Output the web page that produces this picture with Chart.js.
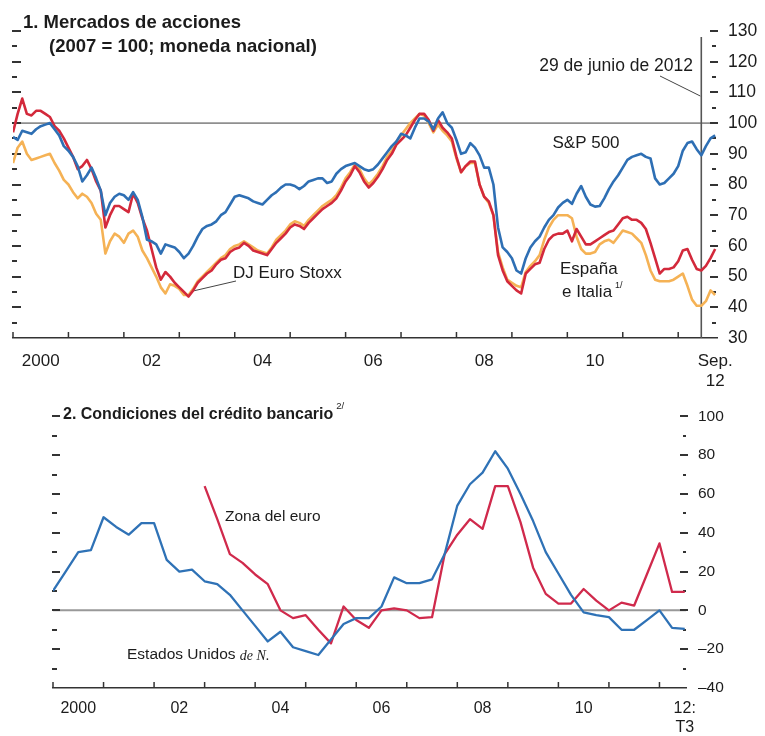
<!DOCTYPE html>
<html><head><meta charset="utf-8">
<script src="https://cdn.jsdelivr.net/npm/chart.js@4.4.1/dist/chart.umd.min.js"></script>
<style>
html,body{margin:0;padding:0;background:#fff;}
#wrap{position:relative;width:765px;height:736px;overflow:hidden;background:#fff;}
#c1{position:absolute;left:0;top:0;width:765px;height:395px;}
#c2{position:absolute;left:0;top:395px;width:765px;height:341px;}
</style></head><body>
<div id="wrap"><canvas id="c1" width="765" height="395"></canvas><canvas id="c2" width="765" height="341"></canvas></div>
<script>
// ---------- Panel 1: stock markets (monthly, 2007 = 100) ----------
const months = [];
for (let yr = 2000; yr <= 2012; yr++) {
  for (let mo = 1; mo <= 12; mo++) {
    if (yr === 2012 && mo > 9) break;
    months.push(yr + '-' + String(mo).padStart(2, '0'));
  }
}
const sp500 = [
  95.5,94.5,97.5,97,96.5,98,99,99.5,100,98,96,92.5,
  91,89,86,81,83,85.5,82,78,70,74,76,77,
  76.5,75,77.5,75,69.5,62,61.5,60.5,57.5,60.5,60,59.5,
  58,56,57.5,60,63,65.5,66.5,67,68,70,71,73.5,
  76,76.5,76,75.5,74.5,74,73.5,75,76.5,77.5,79,80,
  80,79.5,78.5,79.5,81,81.5,82,82,80.5,81,83.5,85,
  86,86.5,87,86,85,84.5,85,86.5,88.5,90.5,92.5,94,
  96.5,96,95,98.5,101.5,101.5,100.5,98,101.5,103.5,100,98.5,
  94.5,90,90.5,93.5,92,89.5,85.5,85.5,80,66,59.5,58,
  56,52,51,56,59.5,61.5,63,66,68.5,70,72.5,74,
  75,73.7,77,79.5,76,73.5,72.8,73,75.5,78.5,81,83,
  85.5,88,89,89.5,90,89,88.5,82,80,80.5,82,83.5,
  86,91,93.5,94,91.5,89.5,92.5,95,96
];
const euroStoxx = [
  97,103,108,103,102.5,104,104,103,102,99,97.5,95,
  92,89,85,86,88,85,81,78,66,70,73,73,
  72,71,77,74,69,65,59,53,49,51.5,50,48,
  46.5,45,43.5,45.5,48,49.5,51,52,54,55.5,56,58,
  59,59.5,61,60,58.5,58,57.5,57,59,61,62.5,64,
  66,67,66.5,65.5,67.5,69,70.5,72,73,74,75.5,78,
  81,83,86,84,81,79,80.5,82.5,85,88,90,93,
  94.5,96,98.5,101,103,103,101,97.5,101,98.5,97,95,
  89,84,86,87.5,87.5,80,76,74.5,70,57,52,48.5,
  47,45.5,44.5,51,52.5,54,54.5,59,62,63.5,64,64,
  65,61.5,65.5,63,60.5,60.5,61.5,62.5,63.5,64.5,65,67,
  69,69.5,68.5,68.5,67.5,65.5,61,56,51,52.5,52.5,53,
  55,58.5,59,55.5,52.5,52,53.5,56,59
];
const spainItaly = [
  87,92,94,90,88,88.5,89,89.5,90,87,84.5,81.5,
  80,77.5,75.5,77,76,74,70.5,68.5,57.5,61.5,64,63,
  61,64,65,63,58.5,56,53,50,46.5,44.5,47.5,47,
  46,44,44,46,48.5,50,51.5,53,54.5,56,57,59,
  60,60.5,61.5,60.5,59.5,58.5,58,57.5,59.5,62,63.5,65,
  67,68,67.5,66.5,68.5,70,71.5,73,74,75,76.5,79,
  82,84,86.5,85,82,80,81.5,83.5,86,89,91,94,
  96,98,100,101.5,103,102.5,100,97,99.5,97.5,96,94,
  88.5,84,86,87,87,80,76,74,70,58,53,49,
  48,47,46.5,51.5,53.5,55,57,62,66,68.5,70,70,
  70,69,63,59,57.5,57.5,58,60.5,61.5,62,61,63,
  65,64.5,64,62.5,61,57,52,49,48.5,48.5,48.5,49,
  50,51,47,42.5,40.5,40.5,42,45.5,44
];
const stockTickCats   = ['2000-07','2002-07','2004-07','2006-07','2008-07','2010-07','2012-09'];
const stockTickLabels = ['2000','02','04','06','08','10',['Sep.','12']];
const stockBaseline = 100;
const eventMonth = '2012-06';

// ---------- Panel 2: bank credit conditions (quarterly) ----------
const quarters = [];
for (let yr = 2000; yr <= 2012; yr++) {
  for (let q = 1; q <= 4; q++) {
    if (yr === 2012 && q > 3) break;
    quarters.push(yr + 'T' + q);
  }
}
const usCredit = [
  10,20,30,31, 48,43,39,45, 45,26,20,21, 15,13.5,8,0, -8,-16,-11,-19,
  -21,-23,-15,-7, -4,-4,2,17, 14,14,16,29, 54,65,71,82, 73,60,46,30,
  19,8,-1,-2.5, -3.5,-10,-10,-5, 0,-9,-9.5
];
const euroCredit = [
  null,null,null,null, null,null,null,null, null,null,null,null,
  64,47,29,24.5, 18.5,13.5,0,-4, -2.5,-10,-17,2, -5,-9,0,1,
  0,-4,-3.5,29, 39,47,42,64, 64,45.5,22,8.5, 3.5,3.5,11,5,
  0,4,2.5,18.5, 34.5,9.5,9.5
];
const creditTickCats   = ['2000T3','2002T3','2004T3','2006T3','2008T3','2010T3','2012T3'];
const creditTickLabels = ['2000','02','04','06','08','10',['12:','T3']];

// ---------- helpers ----------
const SANS = '"Liberation Sans", Arial, Helvetica, sans-serif';
const INK = '#1c1c1c';
const AX = '#333333';
function seg(ctx, x1, y1, x2, y2, color, w) {
  ctx.beginPath(); ctx.moveTo(x1, y1); ctx.lineTo(x2, y2);
  ctx.strokeStyle = color; ctx.lineWidth = w; ctx.stroke();
}
function txt(ctx, s, x, y, font, align, base) {
  ctx.font = font; ctx.fillStyle = INK; ctx.textAlign = align || 'left';
  ctx.textBaseline = base || 'alphabetic'; ctx.fillText(s, x, y);
  return ctx.measureText(s).width;
}
function pts(arr) { return arr.map((v, i) => ({x: i, y: v})); }
function minusFmt(v) { return v < 0 ? '\u2013' + Math.abs(v) : String(v); }

Chart.defaults.font.family = SANS;
Chart.defaults.color = INK;

// ---------- Chart 1 ----------
const stockTickIdx = stockTickCats.map(c => months.indexOf(c));
const deco1 = {
  id: 'deco1',
  beforeDatasetsDraw(chart) {
    const {ctx, chartArea: a, scales: {x, y}} = chart;
    ctx.save();
    const yb = y.getPixelForValue(stockBaseline);
    seg(ctx, a.left, yb, a.right, yb, '#8f8f8f', 1.6);
    for (let v = 35; v <= 130; v += 5) {
      const py = Math.round(y.getPixelForValue(v));
      const major = v % 10 === 0;
      seg(ctx, 12, py, major ? 21 : 17, py, AX, 2);
      seg(ctx, major ? 710 : 712, py, major ? 718 : 716, py, AX, 2);
    }
    for (let m = 0; m < months.length; m += 12) {
      const px = x.getPixelForValue(m);
      seg(ctx, px, a.bottom, px, a.bottom - 6, AX, 1.5);
    }
    const vx = x.getPixelForValue(months.indexOf(eventMonth));
    seg(ctx, vx, 37, vx, a.bottom, '#555', 1.6);
    seg(ctx, 660, 76, vx - 1, 96, '#444', 1);
    seg(ctx, 193, 291, 236, 281, '#444', 1);
    ctx.restore();
  },
  afterDatasetsDraw(chart) {
    const ctx = chart.ctx;
    ctx.save();
    txt(ctx, '1. Mercados de acciones', 23, 28, 'bold 18.5px ' + SANS);
    txt(ctx, '(2007 = 100; moneda nacional)', 49, 52, 'bold 18.5px ' + SANS);
    txt(ctx, '29 de junio de 2012', 693, 66, '17.5px ' + SANS, 'right', 'middle');
    txt(ctx, 'S&P 500', 586, 143, '17px ' + SANS, 'center', 'middle');
    txt(ctx, 'DJ Euro Stoxx', 233, 273, '17px ' + SANS, 'left', 'middle');
    txt(ctx, 'España', 560, 269, '17px ' + SANS, 'left', 'middle');
    const w = txt(ctx, 'e Italia', 562, 292, '17px ' + SANS, 'left', 'middle');
    txt(ctx, '1/', 562 + w + 3, 286, '9px ' + SANS, 'left', 'middle');
    ctx.restore();
  }
};

new Chart(document.getElementById('c1'), {
  type: 'line',
  data: {
    datasets: [
      {label: 'S&P 500', data: pts(sp500), borderColor: '#2e6fb4', borderWidth: 2.6},
      {label: 'DJ Euro Stoxx', data: pts(euroStoxx), borderColor: '#d3293b', borderWidth: 2.6},
      {label: 'España e Italia', data: pts(spainItaly), borderColor: '#f5b255', borderWidth: 2.6}
    ]
  },
  options: {
    responsive: false, animation: false, devicePixelRatio: 1, events: [],
    layout: {padding: {left: 13, top: 31, right: 0, bottom: 0}},
    elements: {point: {radius: 0}, line: {tension: 0, borderJoinStyle: 'round'}},
    plugins: {legend: {display: false}, tooltip: {enabled: false}},
    scales: {
      x: {
        type: 'linear', min: 0, max: months.length - 0.6,
        grid: {display: false, drawTicks: false},
        border: {display: true, color: AX, width: 1.6},
        afterBuildTicks: s => { s.ticks = stockTickIdx.map(v => ({value: v})); },
        afterFit: s => { s.height = 57; },
        ticks: {
          autoSkip: false, maxRotation: 0, minRotation: 0, padding: 13,
          font: {size: 17, lineHeight: 1.2}, color: INK,
          callback: v => stockTickLabels[stockTickIdx.indexOf(v)]
        }
      },
      y: {
        position: 'right', min: 30, max: 130,
        grid: {display: false, drawTicks: false},
        border: {display: false},
        afterFit: s => { s.width = 48; },
        ticks: {stepSize: 10, padding: 11, font: {size: 17.5}, color: INK}
      }
    }
  },
  plugins: [deco1]
});

// ---------- Chart 2 ----------
const creditTickIdx = creditTickCats.map(c => quarters.indexOf(c));
const deco2 = {
  id: 'deco2',
  beforeDatasetsDraw(chart) {
    const {ctx, chartArea: a, scales: {x, y}} = chart;
    ctx.save();
    const y0 = y.getPixelForValue(0);
    seg(ctx, a.left, y0, a.right, y0, '#999', 2);
    for (let v = -30; v <= 100; v += 10) {
      const py = Math.round(y.getPixelForValue(v));
      const major = v % 20 === 0;
      seg(ctx, 52, py, major ? 60 : 57, py, AX, 2);
      seg(ctx, major ? 680 : 683, py, major ? 688 : 686, py, AX, 2);
    }
    for (let q = 0; q < quarters.length; q += 4) {
      const px = x.getPixelForValue(q);
      seg(ctx, px, a.bottom, px, a.bottom - 6, AX, 1.5);
    }
    ctx.restore();
  },
  afterDatasetsDraw(chart) {
    const ctx = chart.ctx;
    ctx.save();
    const w = txt(ctx, '2. Condiciones del crédito bancario', 63, 24, 'bold 16px ' + SANS);
    txt(ctx, '2/', 63 + w + 3, 11, '9.5px ' + SANS, 'left', 'middle');
    txt(ctx, 'Zona del euro', 225, 122, '15.5px ' + SANS, 'left', 'middle');
    const w2 = txt(ctx, 'Estados Unidos ', 127, 260, '15.5px ' + SANS, 'left', 'middle');
    txt(ctx, 'de N.', 127 + w2, 261, 'italic 14px "Liberation Serif", "Times New Roman", serif', 'left', 'middle');
    ctx.restore();
  }
};

new Chart(document.getElementById('c2'), {
  type: 'line',
  data: {
    datasets: [
      {label: 'Estados Unidos de N.', data: pts(usCredit), borderColor: '#2f72b6', borderWidth: 2.3},
      {label: 'Zona del euro', data: pts(euroCredit), borderColor: '#d02a4c', borderWidth: 2.3}
    ]
  },
  options: {
    responsive: false, animation: false, devicePixelRatio: 1, events: [],
    layout: {padding: {left: 53, top: 18, right: 0, bottom: 0}},
    elements: {point: {radius: 0}, line: {tension: 0, borderJoinStyle: 'round'}},
    plugins: {legend: {display: false}, tooltip: {enabled: false}},
    scales: {
      x: {
        type: 'linear', min: 0, max: quarters.length - 0.9,
        grid: {display: false, drawTicks: false},
        border: {display: true, color: AX, width: 1.6},
        afterBuildTicks: s => { s.ticks = creditTickIdx.map(v => ({value: v})); },
        afterFit: s => { s.height = 48; },
        ticks: {
          autoSkip: false, maxRotation: 0, minRotation: 0, padding: 11,
          font: {size: 16, lineHeight: 1.2}, color: INK,
          callback: v => creditTickLabels[creditTickIdx.indexOf(v)]
        }
      },
      y: {
        position: 'right', min: -40, max: 100,
        grid: {display: false, drawTicks: false},
        border: {display: false},
        afterFit: s => { s.width = 79; },
        ticks: {stepSize: 20, padding: 12, font: {size: 15.5}, color: INK, callback: v => minusFmt(v)}
      }
    }
  },
  plugins: [deco2]
});
</script>
</body></html>
